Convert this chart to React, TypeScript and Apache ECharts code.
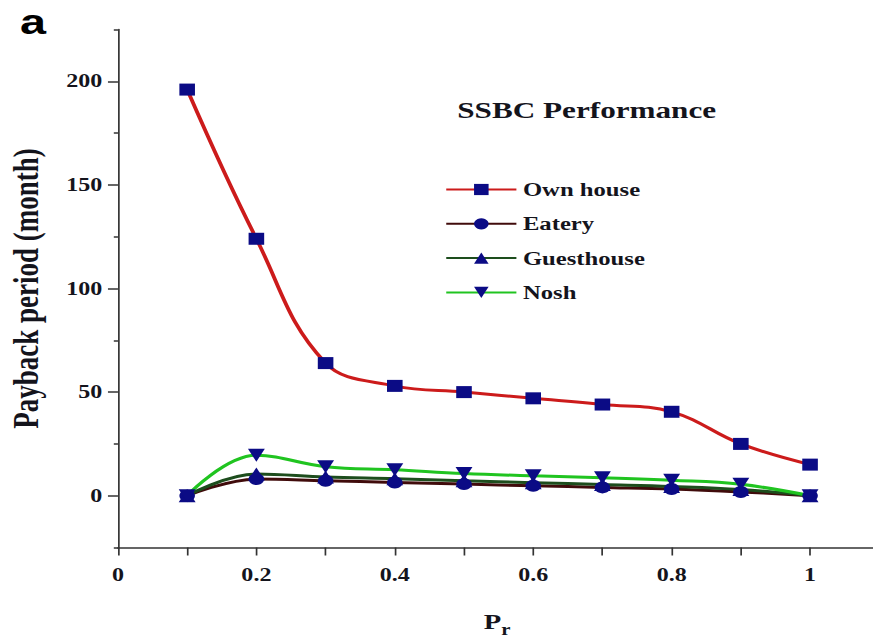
import React, { useEffect, useRef } from "react";
import * as echarts from "echarts";

const xValues = [0.1, 0.2, 0.3, 0.4, 0.5, 0.6, 0.7, 0.8, 0.9, 1.0];
const ownHouse = [196, 124, 64, 53, 50, 47, 44, 40.5, 25, 15];
const eatery = [0, 8, 7.2, 6.4, 5.6, 4.8, 4, 3.2, 1.8, 0];
const guesthouse = [0, 10.5, 9, 8.2, 7.2, 6.3, 5.4, 4.5, 3, 0];
const nosh = [0, 19.5, 14, 12.5, 10.7, 9.6, 8.7, 7.5, 5.5, 0];

const seriesNames = ["Own house", "Eatery", "Guesthouse", "Nosh"];
const xTickValues = [0, 0.1, 0.2, 0.3, 0.4, 0.5, 0.6, 0.7, 0.8, 0.9, 1.0];
const xLabelValues = [0, 0.2, 0.4, 0.6, 0.8, 1.0];
const yMajorValues = [0, 50, 100, 150, 200];
const yMinorValues = [-25, 25, 75, 125, 175, 225];

const W = 672;
const H = 639;
const STRETCH = 873 / W;

const SERIF = "Liberation Serif";
const TEXT = "#14141c";
const MARKER = "#0b0b85";

export default function App() {
  const ref = useRef<HTMLDivElement>(null);
  useEffect(() => {
    if (!ref.current) return;
    const chart = echarts.init(ref.current, null, { renderer: "svg" });
    const pairs = (ys: number[]) => xValues.map((x, i) => [x, ys[i]]);
    const mk = (
      name: string,
      ys: number[],
      color: string,
      symbol: string,
      size: number,
      rotate = 0
    ) => ({
      type: "line",
      name,
      data: pairs(ys),
      smooth: 0.4,
      symbol,
      symbolSize: size,
      symbolRotate: rotate,
      showAllSymbol: true,
      lineStyle: { color, width: 3 },
      itemStyle: { color: MARKER, borderWidth: 0 },
      emphasis: { disabled: true },
    });
    chart.setOption({
      animation: false,
      backgroundColor: "#ffffff",
      title: {
        text: "SSBC Performance",
        left: 352,
        top: 98,
        padding: 0,
        textStyle: { fontFamily: SERIF, fontWeight: "bold", fontSize: 24, color: TEXT },
      },
      legend: {
        orient: "vertical",
        left: 342.5,
        top: 180,
        padding: 0,
        itemWidth: 54,
        itemHeight: 14,
        itemGap: 15.3,
        data: seriesNames,
        textStyle: { fontFamily: SERIF, fontWeight: "bold", fontSize: 19, color: TEXT },
      },
      grid: { left: 90.8, right: 0.5, top: 29.5, bottom: 91.5, outerBoundsMode: "none" },
      xAxis: {
        type: "value",
        min: 0,
        max: 1.09,
        interval: 0.1,
        axisLine: { onZero: false, lineStyle: { color: "#333", width: 1.6 } },
        axisTick: {
          inside: false,
          length: 8,
          customValues: xTickValues,
          lineStyle: { color: "#333", width: 1.3 },
        },
        axisLabel: {
          customValues: xLabelValues,
          margin: 18,
          fontFamily: SERIF,
          fontWeight: "bold",
          fontSize: 18.5,
          color: TEXT,
          formatter: (v: number) => (v === 0 ? "0" : v === 1 ? "1" : v.toFixed(1)),
        },
        splitLine: { show: false },
      },
      yAxis: [
        {
          type: "value",
          position: "left",
          min: -25,
          max: 225,
          interval: 25,
          name: "Payback period (month)",
          nameLocation: "middle",
          nameRotate: 90,
          nameGap: 57,
          nameTextStyle: { fontFamily: SERIF, fontWeight: "bold", fontSize: 27, color: TEXT },
          axisLine: { onZero: false, lineStyle: { color: "#333", width: 1.3 } },
          axisTick: {
            length: 7.7,
            customValues: yMajorValues,
            lineStyle: { color: "#333", width: 1.5 },
          },
          axisLabel: {
            customValues: yMajorValues,
            margin: 12,
            fontFamily: SERIF,
            fontWeight: "bold",
            fontSize: 18.5,
            color: TEXT,
          },
          splitLine: { show: false },
        },
        {
          type: "value",
          position: "left",
          min: -25,
          max: 225,
          interval: 25,
          axisLine: { show: false, onZero: false },
          axisTick: {
            length: 3.2,
            customValues: yMinorValues,
            lineStyle: { color: "#333", width: 1.5 },
          },
          axisLabel: { show: false },
          splitLine: { show: false },
        },
      ],
      graphic: [
        {
          type: "text",
          left: 15.4,
          top: 3,
          style: {
            text: "a",
            fontFamily: "Liberation Sans",
            fontWeight: "bold",
            fontSize: 36,
            fill: "#000",
          },
        },
        {
          type: "text",
          x: 382.6,
          y: 607,
          style: {
            text: "{p|P}{r|r}",
            align: "center",
            rich: {
              p: { fontFamily: SERIF, fontWeight: "bold", fontSize: 22, lineHeight: 30, fill: TEXT },
              r: {
                fontFamily: SERIF,
                fontWeight: "bold",
                fontSize: 16,
                lineHeight: 15,
                verticalAlign: "bottom",
                fill: TEXT,
              },
            },
          },
        },
      ],
      series: [
        mk(seriesNames[0], ownHouse, "#cc1b1b", "rect", 12),
        mk(seriesNames[1], eatery, "#400b0b", "circle", 12),
        mk(seriesNames[2], guesthouse, "#1d4d1d", "triangle", 13),
        mk(seriesNames[3], nosh, "#20c420", "triangle", 13, 180),
      ],
    });
    return () => chart.dispose();
  }, []);
  return (
    <div
      style={{
        position: "fixed",
        left: 0,
        top: 0,
        width: 873,
        height: H,
        overflow: "hidden",
        background: "#fff",
      }}
    >
      <div
        ref={ref}
        style={{
          width: W,
          height: H,
          transform: `scaleX(${STRETCH})`,
          transformOrigin: "0 0",
        }}
      />
    </div>
  );
}
